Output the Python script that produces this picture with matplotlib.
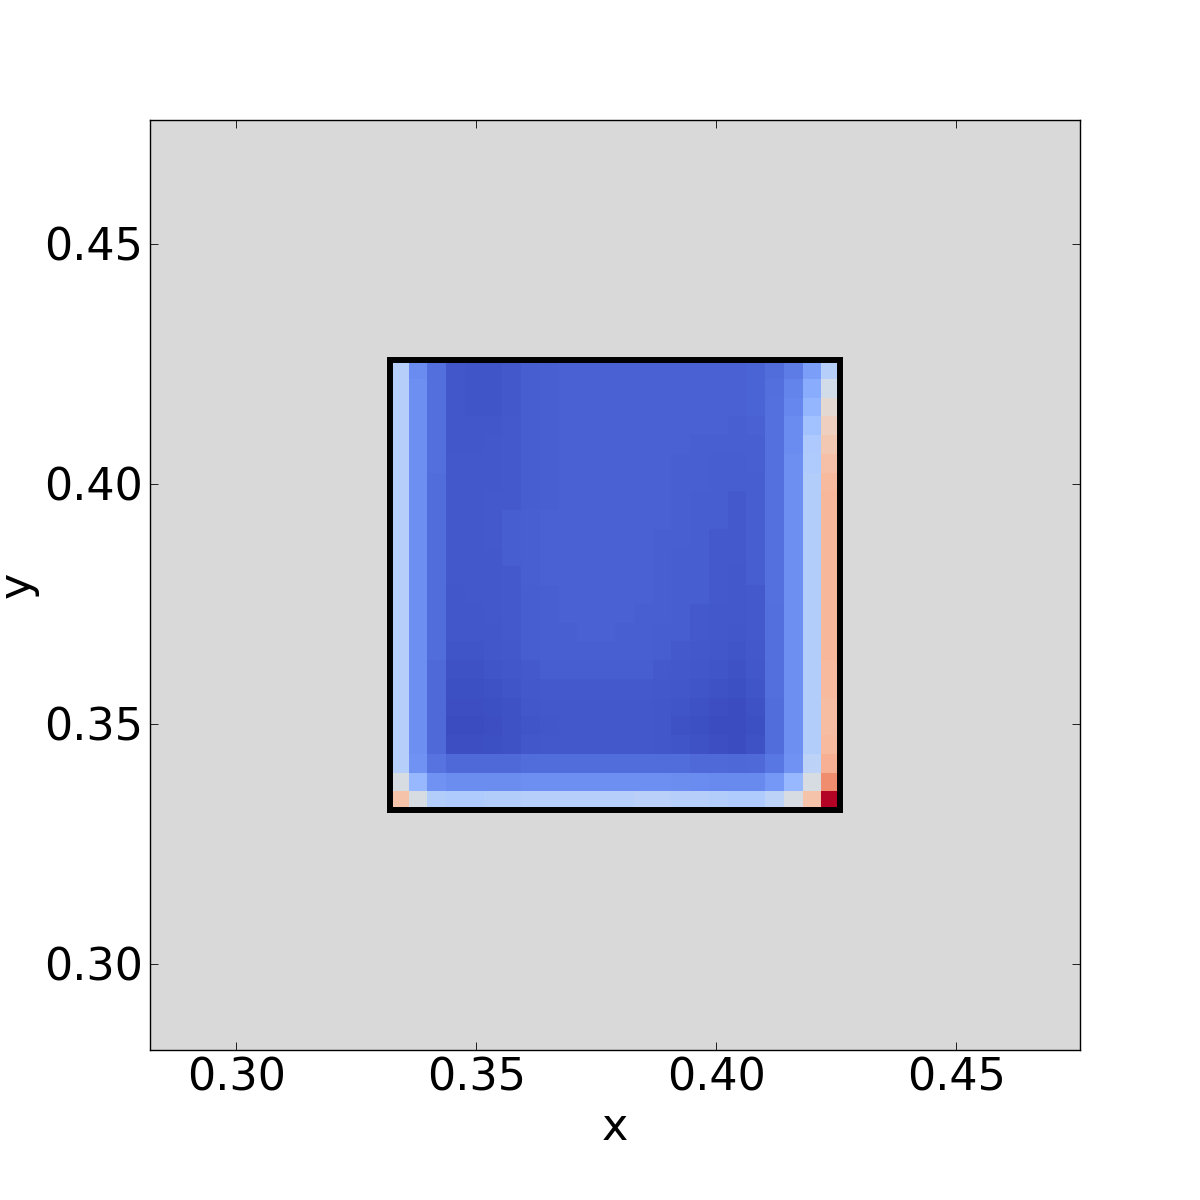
import numpy as np
import matplotlib
matplotlib.use("Agg")
import matplotlib.pyplot as plt
from matplotlib.patches import Rectangle

# Domain of the refined patch (cell size 1/256)
x_min, x_max = 85 / 256, 109 / 256
y_min, y_max = 85 / 256, 109 / 256
n_cells = 24

# Cell values (coolwarm-normalised), rows listed from TOP to BOTTOM
rows_top_to_bottom = [
    [0.37, 0.15, 0.08, 0.025, 0.02, 0.02, 0.03, 0.04, 0.045, 0.05, 0.05, 0.05, 0.05, 0.05, 0.05, 0.05, 0.05, 0.05, 0.05, 0.055, 0.075, 0.11, 0.20, 0.37],
    [0.37, 0.16, 0.08, 0.025, 0.02, 0.02, 0.03, 0.04, 0.045, 0.05, 0.05, 0.05, 0.05, 0.05, 0.05, 0.05, 0.05, 0.05, 0.05, 0.055, 0.08, 0.13, 0.24, 0.46],
    [0.37, 0.16, 0.08, 0.025, 0.02, 0.02, 0.03, 0.04, 0.045, 0.05, 0.05, 0.05, 0.05, 0.05, 0.05, 0.05, 0.05, 0.05, 0.05, 0.055, 0.085, 0.14, 0.27, 0.53],
    [0.37, 0.16, 0.08, 0.025, 0.025, 0.025, 0.035, 0.04, 0.045, 0.05, 0.05, 0.05, 0.05, 0.05, 0.05, 0.05, 0.05, 0.05, 0.045, 0.05, 0.085, 0.15, 0.31, 0.58],
    [0.37, 0.16, 0.08, 0.025, 0.025, 0.03, 0.035, 0.04, 0.045, 0.05, 0.05, 0.05, 0.05, 0.05, 0.05, 0.05, 0.045, 0.045, 0.045, 0.045, 0.085, 0.15, 0.34, 0.61],
    [0.37, 0.16, 0.08, 0.03, 0.03, 0.03, 0.035, 0.04, 0.045, 0.05, 0.05, 0.05, 0.05, 0.05, 0.05, 0.045, 0.045, 0.04, 0.04, 0.045, 0.085, 0.16, 0.35, 0.64],
    [0.37, 0.16, 0.075, 0.03, 0.03, 0.03, 0.035, 0.04, 0.045, 0.05, 0.05, 0.05, 0.05, 0.05, 0.05, 0.045, 0.045, 0.04, 0.04, 0.04, 0.085, 0.16, 0.36, 0.66],
    [0.37, 0.16, 0.075, 0.03, 0.03, 0.035, 0.035, 0.04, 0.045, 0.05, 0.05, 0.05, 0.05, 0.05, 0.05, 0.045, 0.04, 0.04, 0.035, 0.04, 0.085, 0.16, 0.36, 0.67],
    [0.37, 0.16, 0.075, 0.03, 0.03, 0.035, 0.04, 0.045, 0.05, 0.05, 0.05, 0.05, 0.05, 0.05, 0.05, 0.045, 0.04, 0.04, 0.035, 0.04, 0.085, 0.16, 0.36, 0.67],
    [0.37, 0.16, 0.075, 0.03, 0.03, 0.035, 0.04, 0.045, 0.05, 0.05, 0.05, 0.05, 0.05, 0.05, 0.045, 0.045, 0.04, 0.035, 0.035, 0.04, 0.085, 0.16, 0.36, 0.67],
    [0.37, 0.16, 0.075, 0.03, 0.03, 0.03, 0.04, 0.045, 0.05, 0.05, 0.05, 0.05, 0.05, 0.05, 0.045, 0.04, 0.04, 0.035, 0.035, 0.04, 0.085, 0.16, 0.36, 0.67],
    [0.37, 0.16, 0.075, 0.03, 0.03, 0.03, 0.035, 0.045, 0.05, 0.05, 0.05, 0.05, 0.05, 0.05, 0.045, 0.04, 0.04, 0.035, 0.03, 0.04, 0.085, 0.16, 0.36, 0.67],
    [0.37, 0.16, 0.075, 0.025, 0.03, 0.03, 0.035, 0.04, 0.045, 0.05, 0.05, 0.05, 0.05, 0.05, 0.045, 0.04, 0.04, 0.035, 0.03, 0.035, 0.085, 0.16, 0.36, 0.67],
    [0.37, 0.16, 0.075, 0.025, 0.025, 0.03, 0.035, 0.04, 0.045, 0.05, 0.05, 0.05, 0.05, 0.045, 0.045, 0.04, 0.035, 0.03, 0.03, 0.035, 0.08, 0.16, 0.36, 0.67],
    [0.37, 0.16, 0.075, 0.025, 0.025, 0.025, 0.035, 0.04, 0.045, 0.045, 0.05, 0.05, 0.045, 0.045, 0.04, 0.04, 0.035, 0.03, 0.025, 0.035, 0.08, 0.16, 0.36, 0.67],
    [0.37, 0.16, 0.075, 0.02, 0.02, 0.025, 0.03, 0.04, 0.045, 0.045, 0.045, 0.045, 0.045, 0.045, 0.04, 0.035, 0.03, 0.025, 0.02, 0.03, 0.08, 0.16, 0.36, 0.67],
    [0.37, 0.16, 0.07, 0.015, 0.015, 0.02, 0.025, 0.035, 0.04, 0.04, 0.04, 0.04, 0.04, 0.04, 0.035, 0.03, 0.025, 0.02, 0.015, 0.025, 0.08, 0.16, 0.36, 0.66],
    [0.37, 0.16, 0.07, 0.01, 0.01, 0.015, 0.02, 0.03, 0.035, 0.035, 0.035, 0.035, 0.035, 0.035, 0.03, 0.025, 0.02, 0.015, 0.01, 0.02, 0.08, 0.16, 0.36, 0.66],
    [0.37, 0.16, 0.07, 0.005, 0.005, 0.01, 0.015, 0.025, 0.03, 0.03, 0.03, 0.03, 0.03, 0.03, 0.025, 0.02, 0.015, 0.005, 0.0, 0.015, 0.075, 0.16, 0.36, 0.65],
    [0.37, 0.16, 0.07, 0.0, 0.0, 0.005, 0.015, 0.02, 0.025, 0.03, 0.03, 0.03, 0.03, 0.03, 0.025, 0.015, 0.01, 0.0, 0.0, 0.01, 0.075, 0.16, 0.36, 0.65],
    [0.37, 0.16, 0.07, 0.005, 0.005, 0.01, 0.015, 0.025, 0.03, 0.03, 0.03, 0.03, 0.03, 0.03, 0.025, 0.02, 0.015, 0.005, 0.0, 0.015, 0.075, 0.16, 0.36, 0.66],
    [0.37, 0.17, 0.09, 0.07, 0.07, 0.07, 0.07, 0.075, 0.075, 0.075, 0.075, 0.075, 0.075, 0.075, 0.075, 0.075, 0.07, 0.07, 0.065, 0.07, 0.10, 0.17, 0.39, 0.69],
    [0.48, 0.28, 0.17, 0.155, 0.155, 0.155, 0.155, 0.16, 0.16, 0.16, 0.16, 0.16, 0.16, 0.16, 0.16, 0.155, 0.15, 0.145, 0.145, 0.145, 0.18, 0.28, 0.48, 0.78],
    [0.63, 0.48, 0.36, 0.35, 0.35, 0.36, 0.36, 0.37, 0.37, 0.37, 0.37, 0.37, 0.37, 0.38, 0.38, 0.37, 0.37, 0.36, 0.35, 0.35, 0.39, 0.48, 0.63, 1.0],
]

x_ticks = [0.30, 0.35, 0.40, 0.45]
y_ticks = [0.30, 0.35, 0.40, 0.45]
tick_labels = ["0.30", "0.35", "0.40", "0.45"]
margin = 0.05

values = np.array(rows_top_to_bottom)[::-1]  # bottom row first for pcolormesh

fig = plt.figure(figsize=(12, 12), dpi=100)
ax = fig.add_axes([0.125, 0.125, 0.775, 0.775])
ax.set_facecolor("#d9d9d9")

x_edges = np.linspace(x_min, x_max, n_cells + 1)
y_edges = np.linspace(y_min, y_max, n_cells + 1)
ax.pcolormesh(x_edges, y_edges, values, cmap="coolwarm", vmin=0.0, vmax=1.0,
              shading="flat", edgecolors="none")

ax.add_patch(Rectangle((x_min, y_min), x_max - x_min, y_max - y_min,
                       fill=False, edgecolor="black", linewidth=4.3, zorder=3))

ax.set_xlim(x_min - margin, x_max + margin)
ax.set_ylim(y_min - margin, y_max + margin)
ax.set_xticks(x_ticks)
ax.set_xticklabels(tick_labels)
ax.set_yticks(y_ticks)
ax.set_yticklabels(tick_labels)

ax.tick_params(direction="in", length=5.5, width=0.6, top=True, right=True,
               labelsize=32, pad=5)
for s in ax.spines.values():
    s.set_linewidth(1.0)

ax.set_xlabel("x", fontsize=32, labelpad=4)
ax.set_ylabel("y", fontsize=32, labelpad=4)

fig.savefig("out.png", dpi=100)
